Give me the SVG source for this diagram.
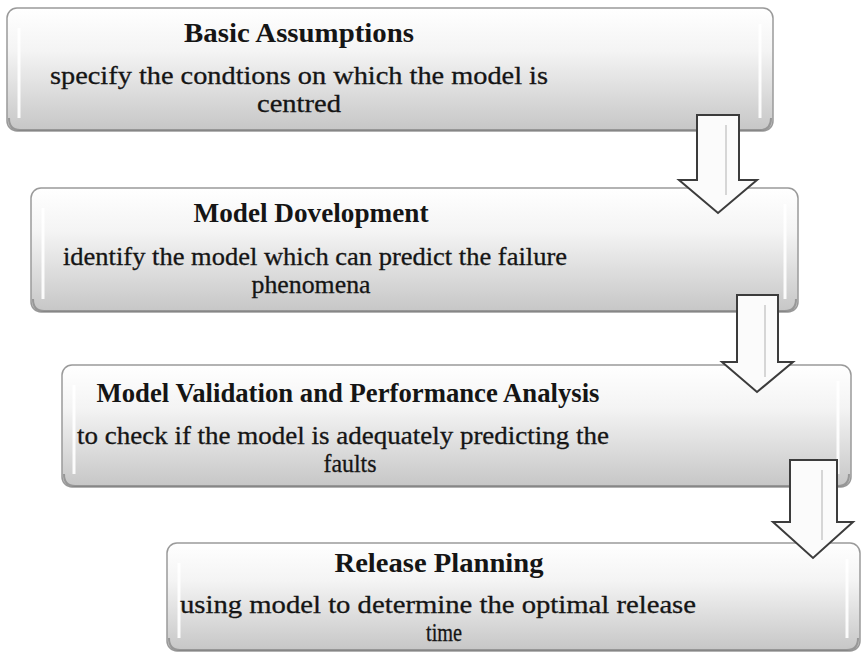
<svg xmlns="http://www.w3.org/2000/svg" width="865" height="653" viewBox="0 0 865 653">
<style>
.box{fill:url(#g);stroke:#9a9a9a;stroke-width:1.5}
.shade{fill:none;stroke:#6e6e6e;stroke-width:2;opacity:0.55}
.hl{fill:none;stroke:#ffffff;stroke-width:3;opacity:0.9}
.t{font-family:"Liberation Serif","Times New Roman",serif;font-size:27px;font-weight:bold;fill:#151515;text-anchor:middle}
.b{font-family:"Liberation Serif","Times New Roman",serif;font-size:25px;fill:#151515;text-anchor:middle;stroke:#151515;stroke-width:0.3}
.arr{fill:#fbfbfb;stroke:#3c3c3c;stroke-width:2;stroke-linejoin:miter}
.ctr{stroke:#d6d6d6;stroke-width:2}
</style>
<defs>
<linearGradient id="g" x1="0" y1="0" x2="0" y2="1">
<stop offset="0" stop-color="#ffffff"/>
<stop offset="0.35" stop-color="#f4f4f4"/>
<stop offset="1" stop-color="#c6c6c6"/>
</linearGradient>
</defs>
<rect width="865" height="653" fill="#ffffff"/>

<g id="node1">
<rect class="box" x="7" y="8" width="766" height="123" rx="10"/>
<path class="shade" d="M9,118 Q9,130 20,130 L760,130 Q771,130 771,118"/>
<line class="hl" x1="19" y1="28" x2="19" y2="118"/>
<line class="hl" x1="760" y1="24" x2="760" y2="118"/>
<text class="t" x="299" y="42" textLength="230" lengthAdjust="spacingAndGlyphs">Basic Assumptions</text>
<text class="b" x="299" y="84" textLength="498" lengthAdjust="spacingAndGlyphs">specify the condtions  on which the model is</text>
<text class="b" x="299" y="112" textLength="84" lengthAdjust="spacingAndGlyphs">centred</text>
</g>

<g id="node2">
<rect class="box" x="31" y="188" width="767" height="124" rx="10"/>
<path class="shade" d="M33,299 Q33,311 44,311 L785,311 Q796,311 796,299"/>
<line class="hl" x1="43" y1="208" x2="43" y2="299"/>
<line class="hl" x1="785" y1="204" x2="785" y2="299"/>
<text class="t" x="311" y="222" textLength="235" lengthAdjust="spacingAndGlyphs">Model Dovelopment</text>
<text class="b" x="315" y="265" textLength="504" lengthAdjust="spacingAndGlyphs">identify  the model which can predict the failure</text>
<text class="b" x="311" y="293" textLength="119" lengthAdjust="spacingAndGlyphs">phenomena</text>
</g>

<g id="node3">
<rect class="box" x="62" y="365" width="789" height="122" rx="10"/>
<path class="shade" d="M64,474 Q64,486 75,486 L838,486 Q849,486 849,474"/>
<line class="hl" x1="74" y1="385" x2="74" y2="474"/>
<line class="hl" x1="838" y1="381" x2="838" y2="474"/>
<text class="t" x="348" y="402" textLength="503" lengthAdjust="spacingAndGlyphs">Model Validation and Performance Analysis</text>
<text class="b" x="343" y="444" textLength="532" lengthAdjust="spacingAndGlyphs">to check if the model is adequately predicting  the</text>
<text class="b" x="350" y="472" textLength="53" lengthAdjust="spacingAndGlyphs">faults</text>
</g>

<g id="node4">
<rect class="box" x="167" y="543" width="693" height="108" rx="10"/>
<path class="shade" d="M169,638 Q169,650 180,650 L847,650 Q858,650 858,638"/>
<line class="hl" x1="179" y1="563" x2="179" y2="638"/>
<line class="hl" x1="847" y1="559" x2="847" y2="638"/>
<text class="t" x="439" y="572" textLength="209" lengthAdjust="spacingAndGlyphs">Release Planning</text>
<text class="b" x="438" y="613" textLength="516" lengthAdjust="spacingAndGlyphs">using model to determine the optimal  release</text>
<text class="b" x="444" y="641" textLength="36" lengthAdjust="spacingAndGlyphs">time</text>
</g>

<g id="connectors">
<path class="arr" d="M697,115 L739,115 L739,180 L757,180 L718,213 L679,180 L697,180 Z"/>
<line class="ctr" x1="726" y1="125" x2="726" y2="195"/>
<path class="arr" d="M737,295 L778,295 L778,362 L793,362 L757,392 L722,362 L737,362 Z"/>
<line class="ctr" x1="765" y1="305" x2="765" y2="377"/>
<path class="arr" d="M790,460 L837,460 L837,522 L853,522 L813,558 L773,522 L790,522 Z"/>
<line class="ctr" x1="822" y1="470" x2="822" y2="540"/>
</g>
</svg>
